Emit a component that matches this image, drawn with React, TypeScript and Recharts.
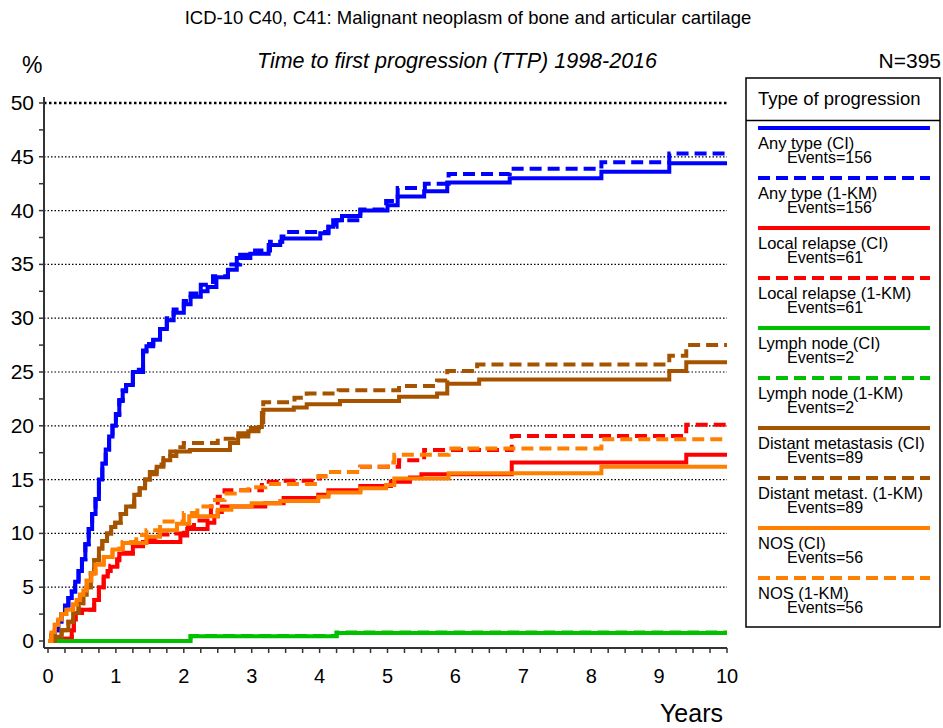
import { LineChart, Line, XAxis, YAxis, ReferenceLine } from "recharts";

// cumulative incidence, [years, %]
const ANY_CI: [number, number][] = [
  [0, 0], [0.05, 0.5], [0.1, 1.0], [0.15, 1.8], [0.2, 2.5], [0.25, 3.3], [0.3, 4.0], [0.35, 4.6],
  [0.4, 5.5], [0.45, 6.5], [0.5, 7.6], [0.55, 9.0], [0.6, 10.4], [0.65, 11.8], [0.7, 13.2],
  [0.75, 15.0], [0.8, 16.5], [0.85, 17.8], [0.9, 19.0], [0.95, 20.0], [1.0, 21.0], [1.05, 22.3],
  [1.1, 23.2], [1.15, 23.8], [1.25, 25.0], [1.4, 26.9], [1.45, 27.4], [1.55, 28.0], [1.65, 29.0],
  [1.75, 29.8], [1.85, 30.5], [2.0, 31.3], [2.1, 32.0], [2.25, 32.5], [2.35, 32.9], [2.48, 33.8],
  [2.65, 34.5], [2.78, 35.6], [2.98, 36.0], [3.25, 36.8], [3.42, 37.1], [3.45, 37.4], [4.01, 37.9],
  [4.13, 38.5], [4.2, 39.1], [4.33, 39.5], [4.6, 40.0], [5.0, 40.5], [5.15, 41.3], [5.54, 41.8],
  [5.88, 42.6], [6.8, 43.0], [8.15, 43.6], [9.15, 44.4], [10, 44.4],
];
const ANY_KM: [number, number][] = [
  [0, 0], [0.05, 0.5], [0.1, 1.0], [0.15, 1.8], [0.2, 2.5], [0.25, 3.3], [0.3, 4.0], [0.35, 4.6],
  [0.4, 5.5], [0.45, 6.5], [0.5, 7.6], [0.55, 9.0], [0.6, 10.4], [0.65, 11.8], [0.7, 13.2],
  [0.75, 15.0], [0.8, 16.5], [0.85, 17.8], [0.9, 19.0], [0.95, 20.0], [1.0, 21.1], [1.05, 22.4],
  [1.1, 23.3], [1.15, 24.0], [1.25, 25.2], [1.4, 27.0], [1.45, 27.6], [1.55, 28.2], [1.65, 29.2],
  [1.75, 30.0], [1.85, 30.8], [2.0, 31.6], [2.1, 32.3], [2.25, 33.1], [2.43, 33.9], [2.65, 35.0],
  [2.83, 35.9], [3.05, 36.3], [3.27, 37.1], [3.44, 37.6], [3.5, 38.0], [4.13, 38.5], [4.25, 39.1],
  [4.6, 40.1], [4.98, 40.9], [5.15, 42.1], [5.55, 42.5], [5.9, 43.4], [6.8, 43.9], [8.15, 44.5],
  [9.15, 45.3], [10, 45.3],
];
const LOCAL_CI: [number, number][] = [
  [0, 0], [0.05, 0.2], [0.35, 1.0], [0.38, 2.0], [0.41, 2.6], [0.5, 2.9], [0.68, 3.8], [0.75, 5.0],
  [0.82, 6.0], [0.88, 6.5], [0.92, 6.9], [1.02, 7.5], [1.05, 8.1], [1.25, 8.8], [1.4, 9.2],
  [1.95, 9.8], [2.05, 10.4], [2.35, 11.0], [2.45, 11.6], [2.5, 12.0], [2.56, 12.5], [3.2, 12.8],
  [3.47, 13.3], [3.98, 13.6], [4.13, 14.0], [4.6, 14.4], [5.05, 14.8], [5.33, 15.2], [5.5, 15.5],
  [6.83, 16.6], [9.4, 17.3], [10, 17.3],
];
const LOCAL_KM: [number, number][] = [
  [0, 0], [0.05, 0.2], [0.35, 1.0], [0.38, 2.0], [0.41, 2.6], [0.5, 2.9], [0.68, 3.8], [0.75, 5.0],
  [0.82, 6.0], [0.88, 6.5], [0.92, 7.0], [1.02, 7.6], [1.05, 8.2], [1.25, 8.9], [1.4, 9.4],
  [1.6, 9.9], [1.8, 10.0], [2.0, 10.6], [2.15, 11.2], [2.4, 12.5], [2.5, 13.4], [2.6, 14.0],
  [3.15, 14.8], [3.47, 14.9], [4.0, 15.3], [4.13, 15.7], [4.6, 16.2], [5.17, 16.8], [5.54, 17.75],
  [6.83, 19.05], [9.4, 20.1], [10, 20.1],
];
const LYMPH_CI: [number, number][] = [[0, 0], [2.1, 0.45], [4.25, 0.75], [10, 0.75]];
const LYMPH_KM: [number, number][] = [[0, 0], [2.1, 0.46], [4.25, 0.8], [10, 0.8]];
const DIST_CI: [number, number][] = [
  [0, 0], [0.1, 0.4], [0.2, 1.0], [0.3, 1.8], [0.37, 2.6], [0.45, 3.5], [0.52, 4.3], [0.57, 5.0],
  [0.63, 6.3], [0.68, 7.5], [0.75, 8.6], [0.8, 9.3], [0.87, 10.0], [0.93, 10.6], [0.99, 11.0],
  [1.07, 11.8], [1.15, 12.5], [1.27, 13.6], [1.35, 14.2], [1.43, 15.0], [1.5, 15.5], [1.6, 16.2],
  [1.7, 16.8], [1.8, 17.2], [1.89, 17.6], [2.09, 17.75], [2.68, 18.4], [2.8, 19.0], [2.95, 19.5],
  [3.1, 19.9], [3.15, 21.2], [3.17, 21.5], [3.62, 21.7], [3.81, 22.0], [4.3, 22.3], [5.17, 22.7],
  [5.73, 23.0], [5.88, 23.9], [6.35, 24.3], [9.15, 25.1], [9.4, 25.9], [10, 25.9],
];
const DIST_KM: [number, number][] = [
  [0, 0], [0.1, 0.4], [0.2, 1.0], [0.3, 1.8], [0.37, 2.6], [0.45, 3.5], [0.52, 4.3], [0.57, 5.0],
  [0.63, 6.3], [0.68, 7.5], [0.75, 8.6], [0.8, 9.3], [0.87, 10.0], [0.93, 10.6], [0.99, 11.0],
  [1.07, 11.8], [1.15, 12.5], [1.27, 13.6], [1.35, 14.2], [1.43, 15.0], [1.5, 15.7], [1.6, 16.4],
  [1.7, 17.0], [1.8, 17.6], [1.89, 18.0], [2.0, 18.4], [2.5, 18.8], [2.75, 19.3], [2.95, 19.8],
  [3.17, 22.2], [3.63, 22.6], [3.81, 23.0], [4.28, 23.3], [5.17, 23.7], [5.73, 24.2], [5.88, 25.1],
  [6.32, 25.7], [9.15, 26.5], [9.4, 27.5], [10, 27.5],
];
const NOS_CI: [number, number][] = [
  [0, 0], [0.05, 0.8], [0.1, 1.5], [0.15, 2.0], [0.2, 2.5], [0.27, 2.9], [0.37, 3.4], [0.42, 3.8],
  [0.47, 4.3], [0.52, 4.7], [0.57, 5.6], [0.64, 6.3], [0.7, 7.1], [0.82, 7.8], [0.95, 8.5],
  [1.1, 9.1], [1.45, 9.7], [1.65, 10.3], [1.9, 10.9], [2.08, 11.6], [2.5, 12.2], [2.7, 12.5],
  [3.0, 12.8], [3.42, 13.0], [3.98, 13.4], [4.13, 13.8], [4.6, 14.2], [4.98, 14.5], [5.1, 15.1],
  [5.9, 15.6], [8.15, 16.2], [10, 16.2],
];
const NOS_KM: [number, number][] = [
  [0, 0], [0.05, 0.8], [0.1, 1.5], [0.15, 2.0], [0.2, 2.5], [0.27, 2.9], [0.37, 3.4], [0.42, 3.8],
  [0.47, 4.3], [0.52, 4.7], [0.57, 5.6], [0.64, 6.3], [0.7, 7.1], [0.82, 7.8], [0.95, 8.6],
  [1.1, 9.2], [1.3, 9.85], [1.45, 10.3], [1.65, 11.1], [2.0, 11.9], [2.2, 12.5], [2.4, 13.1],
  [2.6, 13.7], [2.75, 14.0], [2.95, 14.3], [3.2, 14.6], [3.98, 15.3], [4.13, 15.7], [4.6, 16.2],
  [5.0, 16.6], [5.1, 17.3], [5.9, 17.9], [8.15, 18.75], [10, 18.75],
];

const X_MAJOR = [0, 1, 2, 3, 4, 5, 6, 7, 8, 9, 10];
const Y_MAJOR = [0, 5, 10, 15, 20, 25, 30, 35, 40, 45, 50];
const X_TICKS = X_MAJOR.flatMap((v) => (v < 10 ? [v, v + 0.25, v + 0.5, v + 0.75] : [v]));
const Y_TICKS = Y_MAJOR.flatMap((v) => (v < 50 ? [v, v + 2.5] : [v]));

const BLUE = "#0000ff";
const RED = "#ff0000";
const GREEN = "#00c000";
const BROWN = "#a65300";
const ORANGE = "#ff8000";

const SERIES = [
  { key: "anyCI", name: "Any type (CI)", events: 156, color: BLUE, dashed: false, pts: ANY_CI },
  { key: "anyKM", name: "Any type (1-KM)", events: 156, color: BLUE, dashed: true, pts: ANY_KM },
  { key: "locCI", name: "Local relapse (CI)", events: 61, color: RED, dashed: false, pts: LOCAL_CI },
  { key: "locKM", name: "Local relapse (1-KM)", events: 61, color: RED, dashed: true, pts: LOCAL_KM },
  { key: "lymCI", name: "Lymph node (CI)", events: 2, color: GREEN, dashed: false, pts: LYMPH_CI },
  { key: "lymKM", name: "Lymph node (1-KM)", events: 2, color: GREEN, dashed: true, pts: LYMPH_KM },
  { key: "disCI", name: "Distant metastasis (CI)", events: 89, color: BROWN, dashed: false, pts: DIST_CI },
  { key: "disKM", name: "Distant metast. (1-KM)", events: 89, color: BROWN, dashed: true, pts: DIST_KM },
  { key: "nosCI", name: "NOS (CI)", events: 56, color: ORANGE, dashed: false, pts: NOS_CI },
  { key: "nosKM", name: "NOS (1-KM)", events: 56, color: ORANGE, dashed: true, pts: NOS_KM },
];

const FONT = "'Liberation Sans', Arial, sans-serif";
const DASH = "12 6";

const XTick = (props: any) => {
  const { x, y, payload } = props;
  if (!Number.isInteger(payload.value)) return null;
  return (
    <text x={x} y={y} dy={20} textAnchor="middle" fontSize={20} fontFamily={FONT} fill="#000">
      {payload.value}
    </text>
  );
};

const YTick = (props: any) => {
  const { x, y, payload } = props;
  if (payload.value % 5 !== 0) return null;
  return (
    <text x={x} y={y} dy={7} textAnchor="end" fontSize={21} fontFamily={FONT} fill="#000">
      {payload.value}
    </text>
  );
};

export default function App() {
  return (
    <div style={{ position: "absolute", left: 0, top: 0, width: 943, height: 728, background: "#fff" }}>
      <LineChart width={943} height={728} margin={{ top: 97, right: 216, bottom: 50, left: 4 }}>
        <XAxis
          type="number"
          dataKey="t"
          domain={[0, 10]}
          ticks={X_TICKS}
          interval={0}
          padding={{ left: 4, right: 0 }}
          height={30}
          tick={<XTick />}
          tickSize={5}
          tickMargin={10}
          axisLine={{ stroke: "#333", strokeWidth: 2 }}
          tickLine={{ stroke: "#333", strokeWidth: 1.5 }}
        />
        <YAxis
          type="number"
          domain={[0, 50]}
          ticks={Y_TICKS}
          interval={0}
          width={40}
          padding={{ top: 6, bottom: 7 }}
          tick={<YTick />}
          tickSize={5}
          tickMargin={5}
          axisLine={{ stroke: "#333", strokeWidth: 2 }}
          tickLine={{ stroke: "#333", strokeWidth: 1.5 }}
        />
        {Y_MAJOR.filter((v) => v > 0).map((v) => (
          <ReferenceLine
            key={v}
            y={v}
            stroke="#000"
            strokeWidth={v === 50 ? 2.5 : 1.2}
            strokeDasharray={v === 50 ? "2.5 2.5" : "1.5 2"}
          />
        ))}
        {SERIES.map((s) => (
          <Line
            key={s.key}
            data={s.pts.map(([t, v]) => ({ t, v }))}
            dataKey="v"
            type="stepAfter"
            stroke={s.color}
            strokeWidth={4}
            strokeDasharray={s.dashed ? DASH : undefined}
            dot={false}
            activeDot={false}
            isAnimationActive={false}
          />
        ))}
      </LineChart>
      <svg
        width={943}
        height={728}
        style={{ position: "absolute", left: 0, top: 0, pointerEvents: "none" }}
        fontFamily={FONT}
      >
        <text x={468} y={24} textAnchor="middle" fontSize={18.5}>
          ICD-10 C40, C41: Malignant neoplasm of bone and articular cartilage
        </text>
        <text x={457} y={68} textAnchor="middle" fontSize={21.5} fontStyle="italic">
          Time to first progression (TTP) 1998-2016
        </text>
        <text x={22} y={73} fontSize={23}>%</text>
        <text x={941} y={68} textAnchor="end" fontSize={21}>N=395</text>
        <text x={723} y={722} textAnchor="end" fontSize={25}>Years</text>

        <rect x={746} y={78} width={194} height={549} fill="none" stroke="#000" strokeWidth={1.5} />
        <line x1={746} x2={940} y1={120.5} y2={120.5} stroke="#000" strokeWidth={1.5} />
        <text x={758} y={105} fontSize={18.5}>Type of progression</text>
        {SERIES.map((s, i) => (
          <g key={s.key}>
            <line
              x1={758}
              x2={930}
              y1={128 + 50 * i}
              y2={128 + 50 * i}
              stroke={s.color}
              strokeWidth={4}
              strokeDasharray={s.dashed ? DASH : undefined}
            />
            <text x={758} y={149 + 50 * i} fontSize={16.5}>{s.name}</text>
            <text x={787} y={163 + 50 * i} fontSize={16}>Events={s.events}</text>
          </g>
        ))}
      </svg>
    </div>
  );
}
